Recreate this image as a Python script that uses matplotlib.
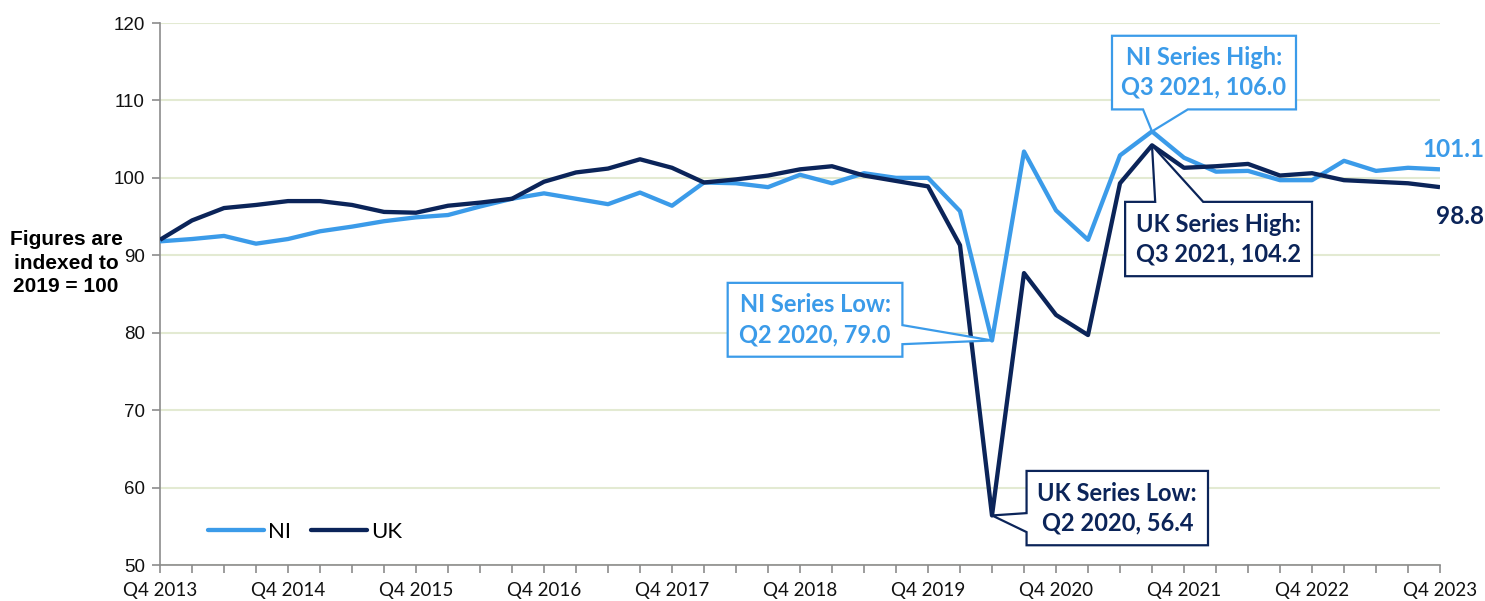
import matplotlib
matplotlib.use("Agg")
import matplotlib.pyplot as plt
from matplotlib.patches import Polygon
import numpy as np

# ---------------- data ----------------
quarters = [f"Q{q} {y}" for y in range(2013, 2024) for q in (1, 2, 3, 4)][3:]  # Q4 2013 .. Q4 2023
tick_labels = ["Q4 2013", "Q4 2014", "Q4 2015", "Q4 2016", "Q4 2017", "Q4 2018",
               "Q4 2019", "Q4 2020", "Q4 2021", "Q4 2022", "Q4 2023"]

ni = [91.8, 92.1, 92.5, 91.5, 92.1, 93.1, 93.7, 94.4, 94.9, 95.2,
      96.3, 97.3, 98.0, 97.3, 96.6, 98.1, 96.4, 99.4, 99.3, 98.8,
      100.4, 99.3, 100.6, 100.0, 100.0, 95.7, 79.0, 103.4, 95.8, 92.0,
      102.9, 106.0, 102.6, 100.8, 100.9, 99.7, 99.7, 102.2, 100.9, 101.3,
      101.1]
uk = [92.0, 94.5, 96.1, 96.5, 97.0, 97.0, 96.5, 95.6, 95.5, 96.4,
      96.8, 97.3, 99.5, 100.7, 101.2, 102.4, 101.3, 99.4, 99.8, 100.3,
      101.1, 101.5, 100.3, 99.6, 98.9, 91.3, 56.4, 87.7, 82.3, 79.7,
      99.3, 104.2, 101.3, 101.5, 101.8, 100.3, 100.6, 99.7, 99.5, 99.3,
      98.8]
y_ticks = [50, 60, 70, 80, 90, 100, 110, 120]

# ---------------- style ----------------
NI_C = "#3B9BE9"
UK_C = "#0B2459"
GRID_C = "#E3EAD2"
AX_C = "#8C8C8C"
FONT = ["Lato", "DejaVu Sans"]
ARIAL = ["Liberation Sans", "DejaVu Sans"]

W, H = 1485, 601
fig = plt.figure(figsize=(W / 100, H / 100), dpi=100)
ax = fig.add_axes([160 / W, 1 - 565 / H, (1440 - 160) / W, (565 - 23) / H])

x = np.arange(len(quarters))
l_ni, = ax.plot(x, ni, color=NI_C, lw=3.1, solid_capstyle="butt", zorder=3, label="NI")
l_uk, = ax.plot(x, uk, color=UK_C, lw=3.1, solid_capstyle="butt", zorder=3.5, label="UK")

ax.set_xlim(0, len(quarters) - 1)
ax.set_ylim(50, 120)
ax.set_yticks(y_ticks)
ax.yaxis.grid(True, color=GRID_C, lw=1.5)
ax.set_axisbelow(True)

ax.set_xticks(x, minor=True)
major_pos = [quarters.index(t) for t in tick_labels]
ax.set_xticks(major_pos)
ax.set_xticklabels(tick_labels, fontfamily=FONT, fontsize=13.5, color="#111111")
for lab in ax.get_yticklabels():
    lab.set_fontfamily(ARIAL)
    lab.set_fontsize(13.5)
    lab.set_color("#111111")
ax.tick_params(axis="x", which="both", direction="out", length=6, width=1.2, color=AX_C, pad=6)
ax.tick_params(axis="y", direction="out", length=6, width=1.2, color=AX_C, pad=5)

for s in ("top", "right"):
    ax.spines[s].set_visible(False)
for s in ("left", "bottom"):
    ax.spines[s].set_color(AX_C)
    ax.spines[s].set_linewidth(1.2)

# y-axis note
fig.text(66 / W, 1 - 263 / H, "Figures are\nindexed to\n2019 = 100", ha="center", va="center",
         multialignment="center", fontfamily=ARIAL, fontweight="bold", fontsize=15,
         linespacing=1.28, color="#000000")

# legend
leg = ax.legend(handles=[l_ni, l_uk], loc="center left",
                bbox_to_anchor=(208 / W, 1 - 532 / H), bbox_transform=fig.transFigure,
                ncol=2, frameon=False, handlelength=2.5, handletextpad=0.2,
                columnspacing=0.9, borderpad=0, borderaxespad=0,
                prop={"family": FONT, "size": 16})
for h in leg.legend_handles:
    h.set_solid_capstyle("round")

# end labels
last = len(quarters) - 1
ax.annotate(f"{ni[last]:.1f}", xy=(last, ni[last]), xytext=(32, 14), textcoords="offset points",
            ha="right", va="center", fontfamily=FONT, fontweight="bold", fontsize=17.5,
            color=NI_C, annotation_clip=False)
ax.annotate(f"{uk[last]:.1f}", xy=(last, uk[last]), xytext=(32, -21), textcoords="offset points",
            ha="right", va="center", fontfamily=FONT, fontweight="bold", fontsize=17.5,
            color=UK_C, annotation_clip=False)


def callout(box, tip, side, b1, b2, text, color):
    x0, y0, x1, y1 = box
    if side == "bottom":
        verts = [(x0, y1), (x1, y1), (x1, y0), (b2, y0), tip, (b1, y0), (x0, y0)]
    elif side == "top":
        verts = [(x0, y1), (b1, y1), tip, (b2, y1), (x1, y1), (x1, y0), (x0, y0)]
    elif side == "right":
        verts = [(x0, y1), (x1, y1), (x1, b1), tip, (x1, b2), (x1, y0), (x0, y0)]
    else:  # left
        verts = [(x0, y1), (x1, y1), (x1, y0), (x0, y0), (x0, b2), tip, (x0, b1)]
    poly = Polygon(verts, closed=True, facecolor="white", edgecolor=color, lw=1.6,
                   zorder=6, clip_on=False, joinstyle="miter")
    ax.add_patch(poly)
    ax.text((x0 + x1) / 2, (y0 + y1) / 2, text, ha="center", va="center",
            multialignment="center", fontfamily=FONT, fontweight="bold", fontsize=17,
            color=color, linespacing=1.35, zorder=7)


i_ni_hi = int(np.argmax(ni)); i_ni_lo = int(np.argmin(ni))
i_uk_hi = int(np.argmax(uk)); i_uk_lo = int(np.argmin(uk))

callout((29.75, 108.84, 35.5, 118.35), (i_ni_hi, ni[i_ni_hi]), "bottom", 30.72, 32.12,
        f"NI Series High:\n{quarters[i_ni_hi]}, {ni[i_ni_hi]:.1f}", NI_C)
callout((30.16, 87.3, 36.0, 96.9), (i_uk_hi, uk[i_uk_hi]), "top", 31.1, 32.6,
        f"UK Series High:\n{quarters[i_uk_hi]}, {uk[i_uk_hi]:.1f}", UK_C)
callout((17.74, 76.9, 23.2, 86.44), (i_ni_lo, ni[i_ni_lo]), "right", 80.98, 78.52,
        f"NI Series Low:\n{quarters[i_ni_lo]}, {ni[i_ni_lo]:.1f}", NI_C)
callout((27.08, 52.55, 32.75, 62.15), (i_uk_lo, uk[i_uk_lo]), "left", 56.7, 54.25,
        f"UK Series Low:\n{quarters[i_uk_lo]}, {uk[i_uk_lo]:.1f}", UK_C)

fig.savefig("out.png", dpi=100)
